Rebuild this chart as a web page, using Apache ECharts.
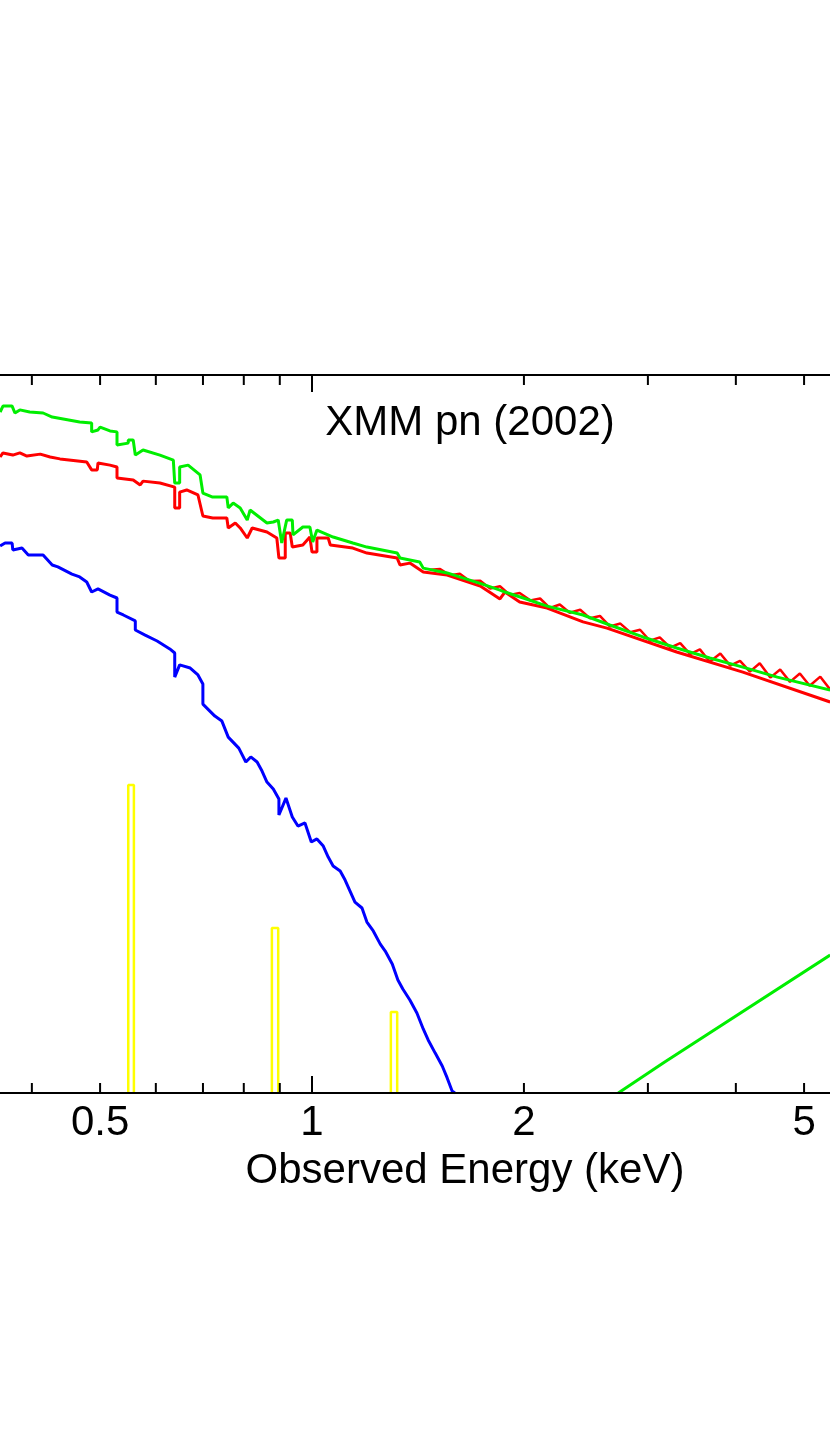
<!DOCTYPE html><html><head><meta charset="utf-8">
<script src="https://cdn.jsdelivr.net/npm/echarts@6/dist/echarts.min.js"></script>
<style>html,body{margin:0;background:#fff}#c{width:830px;height:1430px}</style></head><body><div id="c"></div>
<script>
// x: log10(Energy/keV), y: log10(flux, arbitrary units)
const xTicks=[0.4,0.5,0.6,0.7,0.8,0.9,1,2,3,4,5];
const majorTicks=[1];
const xLabels=[0.5,1,2,5];
const total=[[-0.443,-0.155],[-0.439,-0.130],[-0.426,-0.130],[-0.422,-0.159],[-0.415,-0.146],[-0.401,-0.155],[-0.382,-0.159],[-0.369,-0.176],[-0.330,-0.197],[-0.313,-0.201],[-0.313,-0.238],[-0.304,-0.230],[-0.301,-0.218],[-0.287,-0.234],[-0.277,-0.238],[-0.277,-0.293],[-0.261,-0.285],[-0.261,-0.272],[-0.254,-0.272],[-0.251,-0.335],[-0.240,-0.314],[-0.216,-0.335],[-0.197,-0.356],[-0.195,-0.452],[-0.188,-0.452],[-0.188,-0.385],[-0.176,-0.377],[-0.159,-0.418],[-0.155,-0.494],[-0.142,-0.510],[-0.121,-0.510],[-0.119,-0.556],[-0.112,-0.536],[-0.102,-0.556],[-0.092,-0.607],[-0.088,-0.565],[-0.064,-0.619],[-0.055,-0.615],[-0.048,-0.607],[-0.043,-0.703],[-0.036,-0.607],[-0.028,-0.607],[-0.027,-0.669],[-0.013,-0.636],[-0.003,-0.636],[0.001,-0.699],[0.007,-0.649],[0.030,-0.678],[0.058,-0.703],[0.078,-0.720],[0.121,-0.745],[0.125,-0.766],[0.153,-0.782],[0.158,-0.808],[0.192,-0.828],[0.214,-0.849],[0.241,-0.874],[0.267,-0.900],[0.274,-0.908],[0.300,-0.933],[0.334,-0.967],[0.385,-1.004],[0.423,-1.046],[0.470,-1.096],[0.518,-1.142],[0.565,-1.184],[0.612,-1.222],[0.661,-1.264],[0.736,-1.318]];
const model=[[-0.443,-0.343],[-0.439,-0.326],[-0.425,-0.335],[-0.415,-0.326],[-0.405,-0.339],[-0.386,-0.331],[-0.372,-0.343],[-0.358,-0.351],[-0.320,-0.364],[-0.313,-0.397],[-0.305,-0.397],[-0.304,-0.368],[-0.287,-0.377],[-0.277,-0.385],[-0.277,-0.431],[-0.254,-0.439],[-0.244,-0.460],[-0.240,-0.444],[-0.216,-0.452],[-0.195,-0.469],[-0.195,-0.556],[-0.188,-0.556],[-0.188,-0.490],[-0.178,-0.481],[-0.162,-0.502],[-0.155,-0.590],[-0.141,-0.598],[-0.121,-0.598],[-0.119,-0.640],[-0.109,-0.619],[-0.102,-0.640],[-0.092,-0.682],[-0.085,-0.640],[-0.064,-0.657],[-0.050,-0.682],[-0.047,-0.766],[-0.038,-0.766],[-0.038,-0.661],[-0.031,-0.661],[-0.028,-0.720],[-0.013,-0.711],[-0.003,-0.678],[0.000,-0.741],[0.007,-0.741],[0.007,-0.682],[0.023,-0.682],[0.026,-0.711],[0.058,-0.724],[0.078,-0.745],[0.121,-0.766],[0.125,-0.795],[0.139,-0.787],[0.158,-0.824],[0.192,-0.837],[0.239,-0.883],[0.267,-0.937],[0.274,-0.908],[0.295,-0.950],[0.334,-0.975],[0.385,-1.033],[0.419,-1.059],[0.518,-1.159],[0.612,-1.243],[0.736,-1.368]];
const dataPts=[[0.168,-0.815],[0.182,-0.812],[0.196,-0.838],[0.210,-0.832],[0.224,-0.862],[0.239,-0.861],[0.253,-0.893],[0.267,-0.884],[0.281,-0.920],[0.295,-0.912],[0.310,-0.943],[0.324,-0.935],[0.338,-0.975],[0.352,-0.960],[0.366,-0.995],[0.381,-0.982],[0.395,-1.018],[0.409,-1.008],[0.423,-1.052],[0.438,-1.040],[0.452,-1.076],[0.466,-1.066],[0.480,-1.112],[0.494,-1.098],[0.509,-1.141],[0.523,-1.122],[0.537,-1.168],[0.551,-1.148],[0.565,-1.200],[0.580,-1.165],[0.594,-1.216],[0.608,-1.196],[0.622,-1.241],[0.636,-1.206],[0.651,-1.266],[0.665,-1.232],[0.679,-1.284],[0.693,-1.249],[0.707,-1.300],[0.722,-1.262],[0.736,-1.316]];
const soft=[[-0.443,-0.715],[-0.436,-0.703],[-0.426,-0.703],[-0.425,-0.732],[-0.412,-0.724],[-0.403,-0.753],[-0.382,-0.753],[-0.369,-0.795],[-0.361,-0.803],[-0.341,-0.833],[-0.330,-0.845],[-0.320,-0.866],[-0.313,-0.908],[-0.304,-0.895],[-0.287,-0.921],[-0.277,-0.933],[-0.277,-0.992],[-0.268,-1.004],[-0.251,-1.029],[-0.251,-1.067],[-0.237,-1.088],[-0.220,-1.113],[-0.202,-1.146],[-0.195,-1.163],[-0.195,-1.264],[-0.188,-1.213],[-0.173,-1.226],[-0.162,-1.255],[-0.155,-1.293],[-0.155,-1.377],[-0.138,-1.427],[-0.128,-1.448],[-0.119,-1.515],[-0.104,-1.561],[-0.094,-1.619],[-0.087,-1.598],[-0.078,-1.619],[-0.071,-1.657],[-0.064,-1.703],[-0.055,-1.732],[-0.047,-1.774],[-0.047,-1.841],[-0.037,-1.770],[-0.028,-1.849],[-0.020,-1.887],[-0.010,-1.874],[-0.001,-1.954],[0.007,-1.941],[0.016,-1.971],[0.023,-2.017],[0.030,-2.054],[0.040,-2.075],[0.047,-2.113],[0.054,-2.159],[0.061,-2.205],[0.071,-2.230],[0.078,-2.289],[0.087,-2.326],[0.097,-2.381],[0.104,-2.410],[0.114,-2.464],[0.122,-2.531],[0.129,-2.569],[0.139,-2.615],[0.149,-2.669],[0.158,-2.736],[0.165,-2.782],[0.175,-2.837],[0.185,-2.891],[0.192,-2.941],[0.199,-2.996],[0.203,-3.004]];
const lines=[[-0.261,-3.004],[-0.261,-1.715],[-0.253,-1.715],[-0.253,-3.004],null,[-0.057,-3.004],[-0.057,-2.314],[-0.048,-2.314],[-0.048,-3.004],null,[0.112,-3.004],[0.112,-2.665],[0.121,-2.665],[0.121,-3.004]];
const hard=[[0.435,-3.004],[0.501,-2.874],[0.736,-2.427]];
const XMIN=-0.4432,XMAX=0.7358,YMIN=-3.004,YMAX=0;
const chart=echarts.init(document.getElementById('c'));
const FF='Liberation Sans';
function S(d,c,w){return{type:'line',data:d,symbol:'none',connectNulls:false,lineStyle:{color:c,width:w||3}};}
chart.setOption({animation:false,
grid:{left:0,right:0,top:375,height:718},
title:{text:'XMM pn (2002)',left:465,top:397,textAlign:'center',textStyle:{fontSize:42,fontWeight:'normal',color:'#000',fontFamily:FF}},
xAxis:{type:'value',min:XMIN,max:XMAX,show:false},
yAxis:{type:'value',min:YMIN,max:YMAX,show:false},
graphic:[{type:'rect',shape:{x:-3,y:375,width:836,height:718},style:{fill:'none',stroke:'#000',lineWidth:2},z:100},
 {type:'text',x:465,y:1150,style:{text:'Observed Energy (keV)',fontSize:42,fontFamily:FF,fill:'#000',align:'center'}}],
series:[
{type:'custom',data:xTicks,z:50,renderItem:(p,api)=>{const e=api.value(0);const lx=Math.log10(e);const b=api.coord([lx,YMIN]),t=api.coord([lx,YMAX]);const L=majorTicks.includes(e)?17:10;
 const st={stroke:'#000',lineWidth:2};return{type:'group',children:[{type:'line',shape:{x1:b[0],y1:b[1],x2:b[0],y2:b[1]-L},style:st},{type:'line',shape:{x1:t[0],y1:t[1],x2:t[0],y2:t[1]+L},style:st}]};}},
{type:'custom',data:xLabels,renderItem:(p,api)=>{const e=api.value(0);const b=api.coord([Math.log10(e),YMIN]);return{type:'text',x:b[0],y:b[1]+9,style:{text:String(e),fontSize:42,fontFamily:FF,fill:'#000',align:'center'}};}},
S(soft,'#0000ff'),S(lines,'#ffff00',2.5),S(hard,'#00ee00'),S(model,'#ff0000'),S(dataPts,'#ff0000',2.5),S(total,'#00ee00')
]});
</script></body></html>
